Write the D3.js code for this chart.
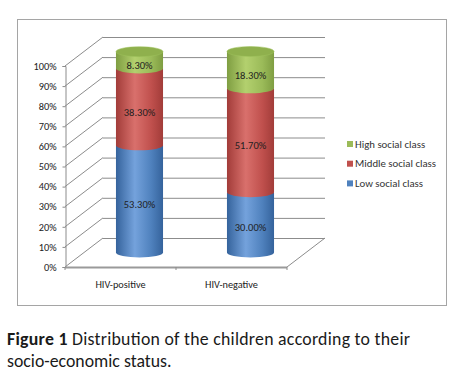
<!DOCTYPE html>
<html>
<head>
<meta charset="utf-8">
<script src="https://cdn.jsdelivr.net/npm/d3@7"></script>
<style>
  body { margin: 0; background: #fff; }
  svg { display: block; font-family: Carlito, Lato, sans-serif; }
</style>
</head>
<body>
<script>
const categories = ["HIV-positive", "HIV-negative"];
const seriesNames = ["Low social class", "Middle social class", "High social class"];
const low = [53.3, 30.0];
const middle = [38.3, 51.7];
const high = [8.3, 18.3];
const yTicks = [0, 10, 20, 30, 40, 50, 60, 70, 80, 90, 100];
const colors = ["#4f81bd", "#c0504d", "#9bbb59"];
const dark = ["#35639c", "#a23c39", "#7f9e42"];
const light = ["#74a2dc", "#d9706c", "#b3d06e"];

const width = 458, height = 382;
const svg = d3.select("body").append("svg")
    .attr("width", width).attr("height", height);

// plot frame
const x0 = 65, x1 = 287, yBase = 267, yTop = 66;
const depthX = 38, depthY = -29;

const y = d3.scaleLinear().domain([0, 100]).range([yBase, yTop]);
const x = d3.scaleBand().domain(categories).range([x0, x1]);

// chart border
svg.append("rect")
    .attr("x", 17.5).attr("y", 19.5)
    .attr("width", 429).attr("height", 286)
    .attr("fill", "#fff")
    .attr("stroke", "#a5a5a5");

const defs = svg.append("defs");
colors.forEach((c, i) => {
    const g = defs.append("linearGradient").attr("id", "g" + i)
        .attr("x1", 0).attr("x2", 1).attr("y1", 0).attr("y2", 0);
    g.append("stop").attr("offset", 0).attr("stop-color", dark[i]);
    g.append("stop").attr("offset", 0.4).attr("stop-color", light[i]);
    g.append("stop").attr("offset", 0.75).attr("stop-color", c);
    g.append("stop").attr("offset", 1).attr("stop-color", dark[i]);
});

const grid = svg.append("g").attr("stroke", "#8c8c8c").attr("fill", "none");

// back wall lines + side wall diagonals
yTicks.forEach(t => {
    grid.append("line")
        .attr("x1", x0 + depthX).attr("x2", x1 + depthX)
        .attr("y1", y(t) + depthY + 0.5).attr("y2", y(t) + depthY + 0.5);
    grid.append("line")
        .attr("x1", x0).attr("y1", y(t))
        .attr("x2", x0 + depthX).attr("y2", y(t) + depthY);
});
// floor right edge
grid.append("line")
    .attr("x1", x1).attr("y1", yBase)
    .attr("x2", x1 + depthX).attr("y2", yBase + depthY);

// y axis
const yAxis = svg.append("g")
    .attr("transform", `translate(${x0 + 0.5},0)`)
    .call(d3.axisLeft(y).tickValues(yTicks).tickSize(3).tickPadding(6)
        .tickFormat(d => d + "%"));
yAxis.select(".domain").attr("stroke", "#8c8c8c");
yAxis.selectAll(".tick line").attr("stroke", "#8c8c8c");
yAxis.selectAll("text").attr("font-size", 10.3).attr("fill", "#222")
    .attr("font-family", "Carlito, Lato, sans-serif");

// x axis (floor front edge)
svg.append("line")
    .attr("x1", x0).attr("x2", x1)
    .attr("y1", yBase + 0.5).attr("y2", yBase + 0.5)
    .attr("stroke", "#9a9a9a").attr("stroke-width", 2);
[x0, x0 + x.bandwidth(), x1].forEach(v => {
    svg.append("line")
        .attr("x1", v).attr("x2", v)
        .attr("y1", yBase).attr("y2", yBase + 3)
        .attr("stroke", "#8c8c8c");
});
const xAxis = svg.append("g")
    .attr("transform", `translate(0,${yBase + 11})`)
    .call(d3.axisBottom(x).tickSize(0));
xAxis.select(".domain").remove();
xAxis.selectAll("text").attr("font-size", 10.3).attr("fill", "#222")
    .attr("font-family", "Carlito, Lato, sans-serif");

// stacked cylinders
const table = categories.map((c, i) => ({ cat: c, low: low[i], middle: middle[i], high: high[i] }));
const stack = d3.stack().keys(["low", "middle", "high"])(table);

const barW = x.bandwidth() * 0.424;
const rx = barW / 2, ry = 5;
const offX = depthX / 2, offY = depthY / 2;

const bars = svg.append("g");
stack.forEach((layer, si) => {
    layer.forEach(d => {
        const cx = x(d.data.cat) + x.bandwidth() / 2 + offX;
        const yb = y(d[0]) + offY, yt = y(d[1]) + offY;
        bars.append("path")
            .attr("d", `M${cx - rx},${yt} L${cx - rx},${yb} A${rx},${ry} 0 0 0 ${cx + rx},${yb} L${cx + rx},${yt} Z`)
            .attr("fill", `url(#g${si})`);
    });
});
// top caps
stack[stack.length - 1].forEach(d => {
    const cx = x(d.data.cat) + x.bandwidth() / 2 + offX;
    bars.append("ellipse")
        .attr("cx", cx).attr("cy", y(d[1]) + offY)
        .attr("rx", rx).attr("ry", ry)
        .attr("fill", "#8fb04d")
        .attr("stroke", "#9fc25c").attr("stroke-width", 0.5);
});

// data labels
stack.forEach(layer => {
    layer.forEach(d => {
        const cx = x(d.data.cat) + x.bandwidth() / 2 + offX;
        const v = d[1] - d[0];
        svg.append("text")
            .attr("x", cx)
            .attr("y", y((d[0] + d[1]) / 2) + offY + ry + 4)
            .attr("text-anchor", "middle")
            .attr("font-size", 10.5)
            .attr("fill", "#1e1e1e")
            .text(v.toFixed(2) + "%");
    });
});

// legend
const legend = svg.append("g").attr("transform", "translate(347,0)");
[2, 1, 0].forEach((si, k) => {
    const ly = 144 + k * 19.7;
    legend.append("rect").attr("x", 0).attr("y", ly - 3)
        .attr("width", 6).attr("height", 6).attr("fill", colors[si]);
    legend.append("text").attr("x", 8).attr("y", ly + 3.5)
        .attr("font-size", 10.8).attr("fill", "#333")
        .text(seriesNames[si]);
});

// caption
const cap = svg.append("g").attr("fill", "#1a1a1a");
const line1 = cap.append("text").attr("x", 7).attr("y", 345).attr("font-size", 17.8)
    .attr("textLength", 403).attr("lengthAdjust", "spacing");
line1.append("tspan").attr("font-weight", "bold").text("Figure 1");
line1.append("tspan").text(" Distribution of the children according to their");
cap.append("text").attr("x", 7).attr("y", 367).attr("font-size", 17.8)
    .text("socio-economic status.");
</script>
</body>
</html>
